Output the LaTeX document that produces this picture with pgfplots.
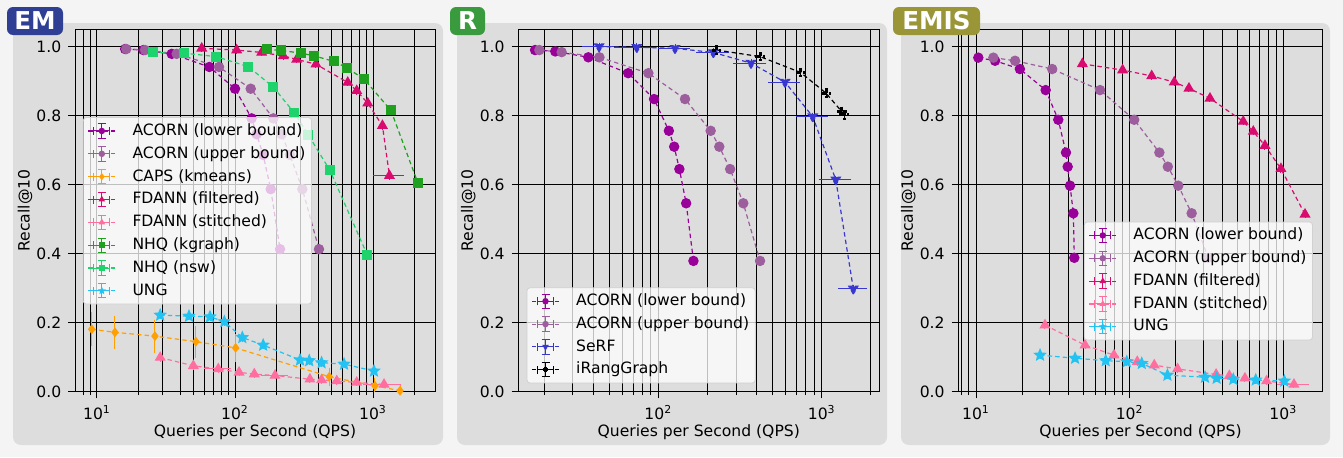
\documentclass[border=0pt]{standalone}
\usepackage{fontspec}
\setmainfont{DejaVu Sans}
\usepackage{pgfplots}
\pgfplotsset{compat=1.18}
\usetikzlibrary{plotmarks}

\definecolor{bgout}{HTML}{F4F4F4}
\definecolor{bgpanel}{HTML}{DDDDDD}
\definecolor{tagEM}{HTML}{2F3F93}
\definecolor{tagR}{HTML}{3A9B3E}
\definecolor{tagEMIS}{HTML}{9A9638}
\definecolor{acornlo}{HTML}{990099}
\definecolor{acornup}{HTML}{9C5E9C}
\definecolor{caps}{HTML}{FF9F00}
\definecolor{fdfilt}{HTML}{DA0B6E}
\definecolor{fdstit}{HTML}{FF6E9E}
\definecolor{nhqkg}{HTML}{1FA01F}
\definecolor{nhqnsw}{HTML}{1ED26C}
\definecolor{ung}{HTML}{22C3F2}
\definecolor{serf}{HTML}{3838D0}

\newcommand{\fs}{\fontsize{7.8}{9}\selectfont}
\newcommand{\tagfont}{\fontsize{12.3}{14}\selectfont\bfseries}

% filled five-point star
\pgfdeclareplotmark{fstar}{%
  \pgfpathmoveto{\pgfpointpolar{90}{\pgfplotmarksize}}%
  \pgfpathlineto{\pgfpointpolar{126}{0.45\pgfplotmarksize}}%
  \pgfpathlineto{\pgfpointpolar{162}{\pgfplotmarksize}}%
  \pgfpathlineto{\pgfpointpolar{198}{0.45\pgfplotmarksize}}%
  \pgfpathlineto{\pgfpointpolar{234}{\pgfplotmarksize}}%
  \pgfpathlineto{\pgfpointpolar{270}{0.45\pgfplotmarksize}}%
  \pgfpathlineto{\pgfpointpolar{306}{\pgfplotmarksize}}%
  \pgfpathlineto{\pgfpointpolar{342}{0.45\pgfplotmarksize}}%
  \pgfpathlineto{\pgfpointpolar{18}{\pgfplotmarksize}}%
  \pgfpathlineto{\pgfpointpolar{54}{0.45\pgfplotmarksize}}%
  \pgfpathclose\pgfusepathqfillstroke}

\pgfplotsset{
  panel/.style={
    scale only axis, anchor=south west,
    height=181.35pt,
    ymin=0, ymax=1.051,
    ytick={0,0.2,0.4,0.6,0.8,1.0},
    yticklabels={0.0,0.2,0.4,0.6,0.8,1.0},
    minor xtick={8,9,20,30,40,50,60,70,80,90,200,300,400,500,600,700,800,900,2000},
    xmajorgrids, xminorgrids, ymajorgrids,
    major grid style={black, line width=0.5pt},
    minor grid style={black, line width=0.5pt},
    axis line style={black, line width=0.5pt},
    tick style={black, line width=0.5pt},
    tick align=outside, xtick pos=left, ytick pos=left,
    major tick length=3.35pt, minor tick length=1.7pt,
    ticklabel style={font=\fs},
    label style={font=\fs},
    xlabel={Queries per Second (QPS)},
    ylabel={Recall@10},
    xlabel style={at={([yshift=-20.4pt]rel axis cs:0.5,0)}, anchor=center},
    ylabel style={at={([xshift=-25pt]rel axis cs:0,0.5)}, anchor=center},
    legend cell align=left,
    legend style={font=\fs, fill=white, fill opacity=0.75, draw opacity=1,
      text opacity=1, draw=black!18, rounded corners=1.5pt, row sep=2.4pt,
      inner sep=2.2pt, nodes={inner sep=0.8pt},
      /tikz/every odd column/.append style={column sep=7.5pt}},
    legend image code/.code={
      \draw[##1, mark=none, fill opacity=1, draw opacity=1] (0pt,0pt) -- (13.5pt,0pt);
      \draw[##1, solid, mark=none, line width=0.5pt, fill opacity=1, draw opacity=1]
        (6.75pt,-3.6pt) -- (6.75pt,3.6pt)
        (4.75pt,-3.6pt) -- (8.75pt,-3.6pt)
        (4.75pt,3.6pt) -- (8.75pt,3.6pt)
        (2.75pt,0pt) -- (10.75pt,0pt)
        (2.75pt,-2pt) -- (2.75pt,2pt)
        (10.75pt,-2pt) -- (10.75pt,2pt);
      \draw[##1, solid, fill opacity=1, draw opacity=1, mark size=1.3pt]
        plot coordinates {(6.75pt,0pt)};
    },
  },
  ser/.style={color=#1, line width=0.6pt, dash pattern=on 2.2pt off 1.6pt,
    mark options={solid, fill=#1},
    error bars/x dir=both, error bars/x explicit,
    error bars/y dir=both, error bars/y explicit,
    error bars/error bar style={solid, line width=0.5pt},
    error bars/error mark options={solid, mark size=2pt, line width=0.5pt}},
}

\begin{document}
\begin{tikzpicture}
\fill[bgout] (0,0) rectangle (671.5pt,228.5pt);
\fill[bgpanel, rounded corners=4pt] (6.5pt,6pt) rectangle (221.5pt,217pt);
\fill[bgpanel, rounded corners=4pt] (228.5pt,6pt) rectangle (443.5pt,217pt);
\fill[bgpanel, rounded corners=4pt] (450.5pt,6pt) rectangle (665pt,217pt);

%--- EM
\begin{axis}[xmode=log, panel, at={(37.5pt,32.65pt)}, width=180pt,
  xmin=6.93, xmax=2813,
  xtick={10,100,1000},
  xticklabels={10\textsuperscript{1},10\textsuperscript{2},10\textsuperscript{3}},
  legend style={at={(0.022,0.757)}, anchor=north west}]
\addplot[ser=acornlo, mark=*, mark size=2.3pt] table[x=x, y=y, x error=ex, y error=ey, row sep=\\] {x y ex ey\\
16.0 0.993 0 0\\ 21.7 0.990 0 0\\ 34.8 0.979 0 0\\ 65.2 0.941 0 0\\ 100 0.878 0 0\\
132 0.792 0 0\\ 143.5 0.746 0 0\\ 160 0.686 0 0\\ 181.5 0.587 0 0\\ 212 0.413 0 0\\};
\addlegendentry{ACORN (lower bound)}
\addplot[ser=acornup, mark=*, mark size=2.3pt] table[x=x, y=y, x error=ex, y error=ey, row sep=\\] {x y ex ey\\
16.3 0.993 0 0\\ 22.3 0.990 0 0\\ 37.8 0.979 0 0\\ 76.6 0.941 0 0\\ 130 0.878 0 0\\
189.6 0.792 0 0\\ 217.6 0.746 0 0\\ 250 0.686 0 0\\ 307.6 0.587 0 0\\ 406 0.413 0 0\\};
\addlegendentry{ACORN (upper bound)}
\addplot[ser=caps, mark=diamond*, mark size=2pt] table[x=x, y=y, x error=ex, y error=ey, row sep=\\] {x y ex ey\\
9.16 0.181 0 0.038\\ 13.5 0.172 0 0.036\\ 26.3 0.161 0 0.036\\ 52.1 0.145 0 0.035\\
101 0.127 0 0.030\\ 482 0.0435 0 0.015\\ 1033 0.017 0 0.010\\ 1570 0.003 0 0.005\\};
\addlegendentry{CAPS (kmeans)}
\addplot[ser=fdfilt, mark=triangle*, mark size=2.6pt] table[x=x, y=y, x error=ex, y error=ey, row sep=\\] {x y ex ey\\
57.4 0.995 0 0\\ 102.8 0.990 0 0\\ 156 0.983 0 0\\ 224 0.973 0 0\\ 280 0.963 0 0\\
386 0.949 0 0\\ 656 0.896 0 0\\ 762 0.872 0 0\\ 916 0.836 0 0\\ 1170 0.771 0 0\\
1315 0.626 250 0\\};
\addlegendentry{FDANN (filtered)}
\addplot[ser=fdstit, mark=triangle*, mark size=2.6pt] table[x=x, y=y, x error=ex, y error=ey, row sep=\\] {x y ex ey\\
28.7 0.099 0 0\\ 49.9 0.075 0 0\\ 75.7 0.066 12 0\\ 107 0.056 0 0\\ 138 0.051 0 0\\
195 0.047 30 0\\ 349 0.036 0 0\\ 424 0.034 0 0\\ 546 0.031 0 0\\ 762 0.027 0 0\\
1202 0.021 300 0\\};
\addlegendentry{FDANN (stitched)}
\addplot[ser=nhqkg, mark=square*, mark size=2.2pt] table[x=x, y=y, x error=ex, y error=ey, row sep=\\] {x y ex ey\\
170 0.992 0 0\\ 215 0.989 0 0\\ 301 0.981 0 0\\ 376 0.973 0 0\\ 522 0.957 0 0\\
644 0.939 0 0\\ 865 0.905 0 0\\ 1349 0.815 0 0\\ 2109 0.606 0 0\\};
\addlegendentry{NHQ (kgraph)}
\addplot[ser=nhqnsw, mark=square*, mark size=2.2pt] table[x=x, y=y, x error=ex, y error=ey, row sep=\\] {x y ex ey\\
25.3 0.983 0 0\\ 43 0.981 0 0\\ 72.8 0.971 0 0\\ 125 0.942 0 0\\ 190 0.882 0 0\\
268 0.809 0 0\\ 340 0.744 0 0\\ 488 0.641 0 0\\ 910 0.396 0 0\\};
\addlegendentry{NHQ (nsw)}
\addplot[ser=ung, mark=fstar, mark size=2.8pt] table[x=x, y=y, x error=ex, y error=ey, row sep=\\] {x y ex ey\\
28.7 0.222 0 0\\ 46.4 0.219 0 0\\ 65.9 0.217 0 0\\ 83.7 0.203 0 0\\ 113 0.157 0 0\\
160 0.135 0 0\\ 296 0.092 0 0\\ 345 0.090 0 0\\ 424 0.084 0 0\\ 617 0.080 0 0\\
1016 0.060 0 0\\};
\addlegendentry{UNG}
\end{axis}

%--- R
\begin{axis}[xmode=log, panel, at={(259.15pt,32.65pt)}, width=180.5pt,
  xmin=13.9, xmax=2250,
  xtick={100,1000},
  xticklabels={10\textsuperscript{2},10\textsuperscript{3}},
  legend style={at={(0.023,0.023)}, anchor=south west}]
\addplot[ser=acornlo, mark=*, mark size=2.3pt] table[x=x, y=y, x error=ex, y error=ey, row sep=\\] {x y ex ey\\
17.6 0.990 0 0\\ 23.4 0.986 0 0\\ 37.3 0.969 0 0\\ 65.4 0.923 0 0\\ 94.1 0.848 0 0\\
116 0.756 0 0\\ 125 0.710 0 0\\ 134.5 0.645 0 0\\ 148 0.546 0 0\\ 164 0.379 0 0\\};
\addlegendentry{ACORN (lower bound)}
\addplot[ser=acornup, mark=*, mark size=2.3pt] table[x=x, y=y, x error=ex, y error=ey, row sep=\\] {x y ex ey\\
18.7 0.990 0 0\\ 25.6 0.984 0 0\\ 43.6 0.969 0 0\\ 86.9 0.923 0 0\\ 145.6 0.848 0 0\\
209 0.756 0 0\\ 236 0.710 0 0\\ 275 0.645 0 0\\ 331 0.546 0 0\\ 419 0.379 0 0\\};
\addlegendentry{ACORN (upper bound)}
\addplot[ser=serf, mark=triangle*, mark size=2.6pt, mark options={rotate=180}] table[x=x, y=y, x error=ex, y error=ey, row sep=\\] {x y ex ey\\
43.4 1.000 7.5 0\\ 73.8 0.998 17 0\\ 126.5 0.995 21.5 0\\ 217 0.983 37 0\\
369 0.952 64 0\\ 596 0.897 101 0\\ 881 0.797 146 0\\ 1219 0.614 206 0\\
1560 0.298 228 0\\};
\addlegendentry{SeRF}
\addplot[ser=black, mark=+, mark size=2.4pt, mark options={line width=1.5pt}] table[x=x, y=y, x error=ex, y error=ey, row sep=\\] {x y ex ey\\
227.5 0.990 0 0\\ 419 0.971 0 0\\ 743 0.925 0 0\\ 1062 0.865 0 0\\ 1325 0.812 0 0\\
1369 0.802 0 0\\};
\addlegendentry{iRangGraph}
\end{axis}

%--- EMIS
\begin{axis}[xmode=log, panel, at={(479.15pt,32.65pt)}, width=182.2pt,
  xmin=7.67, xmax=1803,
  xtick={10,100,1000},
  xticklabels={10\textsuperscript{1},10\textsuperscript{2},10\textsuperscript{3}},
  legend style={at={(0.973,0.469)}, anchor=north east}]
\addplot[ser=acornlo, mark=*, mark size=2.3pt] table[x=x, y=y, x error=ex, y error=ey, row sep=\\] {x y ex ey\\
10.35 0.968 0 0\\ 13.3 0.959 0 0\\ 19.3 0.935 0 0\\ 28.4 0.874 0 0\\ 34.3 0.788 0 0\\
38.5 0.693 0 0\\ 39.5 0.652 0 0\\ 40.9 0.597 0 0\\ 43.0 0.517 0 0\\ 43.6 0.388 0 0\\};
\addlegendentry{ACORN (lower bound)}
\addplot[ser=acornup, mark=*, mark size=2.3pt] table[x=x, y=y, x error=ex, y error=ey, row sep=\\] {x y ex ey\\
12.97 0.968 0 0\\ 17.95 0.959 0 0\\ 31.3 0.935 0 0\\ 64.1 0.874 0 0\\ 107 0.788 0 0\\
156 0.693 0 0\\ 177 0.652 0 0\\ 207 0.597 0 0\\ 253 0.517 0 0\\ 324 0.388 0 0\\};
\addlegendentry{ACORN (upper bound)}
\addplot[ser=fdfilt, mark=triangle*, mark size=2.6pt] table[x=x, y=y, x error=ex, y error=ey, row sep=\\] {x y ex ey\\
49.2 0.950 0 0\\ 89.9 0.932 0 0\\ 139 0.915 0 0\\ 195 0.897 0 0\\ 243 0.879 0 0\\
333 0.850 0 0\\ 548 0.783 0 0\\ 637 0.754 0 0\\ 759 0.713 0 0\\ 964 0.646 0 0\\
1383 0.514 0 0\\};
\addlegendentry{FDANN (filtered)}
\addplot[ser=fdstit, mark=triangle*, mark size=2.6pt] table[x=x, y=y, x error=ex, y error=ey, row sep=\\] {x y ex ey\\
28.1 0.193 0 0\\ 51.2 0.135 0 0\\ 79.0 0.106 0 0\\ 112 0.087 0 0\\ 144.5 0.077 0 0\\
205 0.066 0 0\\ 365 0.050 0 0\\ 445 0.046 0 0\\ 562 0.039 0 0\\ 778 0.031 0 0\\
1172 0.021 214 0\\};
\addlegendentry{FDANN (stitched)}
\addplot[ser=ung, mark=fstar, mark size=2.8pt] table[x=x, y=y, x error=ex, y error=ey, row sep=\\] {x y ex ey\\
26.1 0.106 0 0\\ 44.1 0.097 0 0\\ 69.8 0.090 0 0\\ 95.7 0.087 0 0\\ 119.8 0.082 0 0\\
176 0.048 0 0\\ 309 0.042 0 0\\ 368 0.039 0 0\\ 472 0.036 0 0\\ 661 0.034 0 0\\
1014 0.031 0 0\\};
\addlegendentry{UNG}
\end{axis}

\fill[tagEM, rounded corners=3pt] (3.5pt,211pt) rectangle (31.5pt,225pt);
\node[text=white, font=\tagfont, inner sep=0pt] at (17.5pt,218pt) {EM};
\fill[tagR, rounded corners=3pt] (225pt,211pt) rectangle (242.5pt,225pt);
\node[text=white, font=\tagfont, inner sep=0pt] at (233.75pt,218pt) {R};
\fill[tagEMIS, rounded corners=3pt] (446.5pt,211pt) rectangle (490pt,225pt);
\node[text=white, font=\tagfont, inner sep=0pt] at (468.25pt,218pt) {EMIS};
\end{tikzpicture}
\end{document}
